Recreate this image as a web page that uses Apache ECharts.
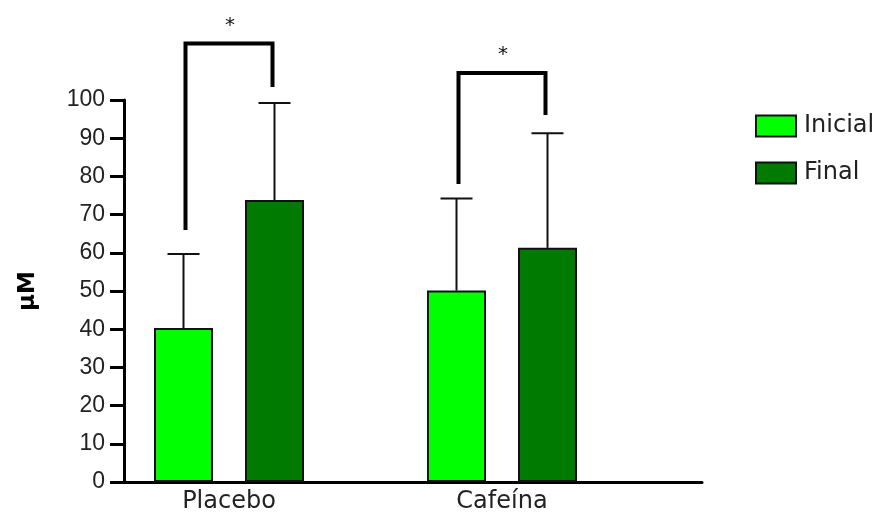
<!DOCTYPE html>
<html>
<head>
<meta charset="utf-8">
<script src="https://cdn.jsdelivr.net/npm/echarts@6/dist/echarts.min.js"></script>
<style>
  html, body { margin: 0; padding: 0; background: #fff; }
  #chart { width: 882px; height: 516px; }
</style>
</head>
<body>
<div id="chart"></div>
<script>
// Groups along the x axis and the two measurement times
const categories = ['Placebo', 'Cafeína'];
const seriesNames = ['Inicial', 'Final'];

// Mean concentration (µM) per group
const inicialMean = [40.3, 50.1];
const finalMean = [73.8, 61.3];

// Standard deviation per group (drawn upward only)
const inicialSD = [19.4, 24.1];
const finalSD = [25.4, 30.0];

// Significance brackets: top level, left and right leg ends, star level
const bracketTop = [114.8, 107.1];
const bracketLeftEnd = [66.0, 78.0];
const bracketRightEnd = [103.4, 96.1];
const bracketStarY = [120.4, 112.9];
const bracketLabel = ['*', '*'];

// Y axis ticks
const yMin = 0;
const yMax = 100;
const yStep = 10;

const FONT = 'DejaVu Sans';
const BAR_W = 59;
const BAR_GAP = 32;
const HALF_PAIR = (BAR_W + BAR_GAP) / 2;   // distance from group centre to each bar centre
const BRACKET_HALF = 43.5;

const colorInicial = '#00ff00';
const colorFinal = '#007a00';

// Numeric position of each group on the x axis
const groupPos = categories.map((c, i) => i + 1);

const barData = (vals) => vals.map((v, i) => [groupPos[i], v]);

function errorSeries(means, sds, side) {
  return {
    type: 'custom',
    silent: true,
    z: 1,
    data: means.map((m, i) => [groupPos[i], m, m + sds[i]]),
    renderItem: function (params, api) {
      const base = api.coord([api.value(0), api.value(1)]);
      const top = api.coord([api.value(0), api.value(2)]);
      const x = base[0] + side * HALF_PAIR;
      const capHalf = 16;
      const st = { stroke: '#111', lineWidth: 2 };
      return {
        type: 'group',
        children: [
          { type: 'line', shape: { x1: x, y1: base[1], x2: x, y2: top[1] }, style: st },
          { type: 'line', shape: { x1: x - capHalf, y1: top[1], x2: x + capHalf, y2: top[1] }, style: st }
        ]
      };
    }
  };
}

const bracketSeries = {
  type: 'custom',
  silent: true,
  z: 5,
  data: categories.map((c, i) => [groupPos[i], bracketTop[i], bracketLeftEnd[i], bracketRightEnd[i], bracketStarY[i]]),
  renderItem: function (params, api) {
    const g = api.value(0);
    const top = api.coord([g, api.value(1)]);
    const l = api.coord([g, api.value(2)]);
    const r = api.coord([g, api.value(3)]);
    const s = api.coord([g, api.value(4)]);
    const xl = top[0] - BRACKET_HALF;
    const xr = top[0] + BRACKET_HALF;
    return {
      type: 'group',
      children: [
        {
          type: 'polyline',
          shape: { points: [[xl, l[1]], [xl, top[1]], [xr, top[1]], [xr, r[1]]] },
          style: { stroke: '#000', lineWidth: 4, fill: null, lineJoin: 'miter', lineCap: 'butt' }
        },
        {
          type: 'text',
          x: s[0] + 1,
          y: s[1] + 4,
          style: {
            text: bracketLabel[params.dataIndex],
            font: '20px "DejaVu Sans"',
            fill: '#111',
            align: 'center', verticalAlign: 'middle'
          }
        }
      ]
    };
  }
};

const chart = echarts.init(document.getElementById('chart'), null, { renderer: 'canvas' });

chart.setOption({
  animation: false,
  backgroundColor: '#fff',
  grid: { left: 124, right: 180, top: 100, bottom: 34, containLabel: false },
  legend: {
    orient: 'vertical',
    left: 755,
    top: 114,
    padding: 0,
    itemWidth: 40,
    itemHeight: 21,
    itemGap: 23,
    icon: 'rect',
    data: seriesNames,
    itemStyle: { borderColor: '#111', borderWidth: 2 },
    textStyle: { fontFamily: FONT, fontSize: 24, color: '#222', padding: [0, 0, 0, 3] }
  },
  xAxis: {
    type: 'value',
    min: 0.6154,
    max: 2.7326,
    splitLine: { show: false },
    axisLine: { show: true, onZero: false, lineStyle: { color: '#000', width: 3 } },
    axisTick: { show: false },
    axisLabel: {
      customValues: groupPos,
      formatter: (v) => categories[Math.round(v) - 1] || '',
      fontFamily: FONT, fontSize: 24, color: '#222', margin: 8
    }
  },
  yAxis: {
    type: 'value',
    min: yMin,
    max: yMax,
    interval: yStep,
    name: 'µM',
    nameLocation: 'middle',
    nameGap: 84,
    nameRotate: 90,
    nameTextStyle: { fontFamily: FONT, fontSize: 23, fontWeight: 'bold', color: '#000' },
    splitLine: { show: false },
    axisLine: { show: true, lineStyle: { color: '#000', width: 3 } },
    axisTick: { show: true, length: 14, lineStyle: { color: '#000', width: 3 } },
    axisLabel: { fontFamily: 'Liberation Sans', fontSize: 23, color: '#222', margin: 19 }
  },
  series: [
    {
      name: seriesNames[0],
      type: 'bar',
      barWidth: BAR_W,
      barGap: (BAR_GAP / BAR_W * 100) + '%',
      data: barData(inicialMean),
      itemStyle: { color: colorInicial, borderColor: '#111', borderWidth: 2 },
      z: 2
    },
    {
      name: seriesNames[1],
      type: 'bar',
      barWidth: BAR_W,
      barGap: (BAR_GAP / BAR_W * 100) + '%',
      data: barData(finalMean),
      itemStyle: { color: colorFinal, borderColor: '#111', borderWidth: 2 },
      z: 2
    },
    errorSeries(inicialMean, inicialSD, -1),
    errorSeries(finalMean, finalSD, 1),
    bracketSeries
  ]
});
</script>
</body>
</html>
